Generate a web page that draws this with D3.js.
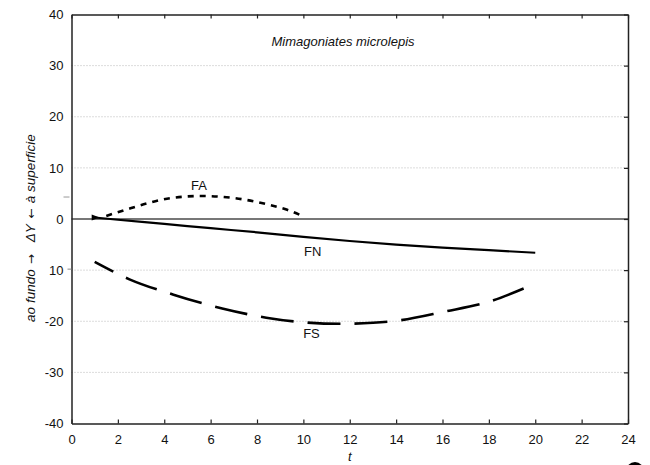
<!DOCTYPE html>
<html lang="pt">
  <head>
    <meta charset="utf-8">
    <style>
    body { margin: 0; background: #fff; }
    svg text { font-family: "Liberation Sans", Arial, sans-serif; }
    </style>
  </head>
  <body>
    <script src="https://cdn.jsdelivr.net/npm/d3@7/dist/d3.min.js"></script>
    <script>
      // dados
      var tA = [1.5, 2.4, 3.3, 4.3, 5.6, 7.0, 8.5, 9.3, 10.0];
      var fa = [0.6, 1.9, 3.1, 4.1, 4.5, 4.1, 2.8, 1.8, 0.5];

      var tN = [1, 2, 4, 6, 8, 10, 12, 14, 16, 18, 20];
      var fn = [0.3, -0.15, -0.95, -1.8, -2.6, -3.5, -4.3, -5.0, -5.6, -6.1, -6.6];

      var tS = [1.0, 2.5, 4.4, 6.5, 8.4, 10, 11.7, 13, 14.2, 16, 18.2, 19.5];
      var fs = [-8.4, -11.8, -14.8, -17.5, -19.3, -20.2, -20.5, -20.3, -19.8, -18.2, -15.9, -13.6];

      var xTicks = [0, 2, 4, 6, 8, 10, 12, 14, 16, 18, 20, 22, 24];
      var yTicks = [-40, -30, -20, -10, 0, 10, 20, 30, 40];
      var yTickLabels = ["-40", "-30", "-20", "10", "0", "10", "20", "30", "40"];

      var seriesNames = ["FA", "FN", "FS"];
      var labelT = [5.5, 10.4, 10.35];
      var labelV = [5.6, -7.2, -23.3];

      var w = 650, h = 465;
      var x = d3.scaleLinear().domain([0, 24]).range([71.5, 628]);
      var y = d3.scaleLinear().domain([-40, 40]).range([423.5, 14.5]);

      var svg = d3.select("body").append("svg")
        .attr("width", w)
        .attr("height", h);

      // grade pontilhada
      svg.selectAll("line.grid")
        .data(yTicks.filter(function(d) { return d !== 0 && Math.abs(d) !== 40; }))
        .enter().append("line")
        .attr("class", "grid")
        .attr("x1", x(0)).attr("x2", x(24))
        .attr("y1", function(d) { return y(d); })
        .attr("y2", function(d) { return y(d); })
        .attr("stroke", "#b8b8b8")
        .attr("stroke-width", 1)
        .attr("stroke-dasharray", "1,2");

      // linha do zero
      svg.append("line")
        .attr("x1", x(0)).attr("x2", x(24))
        .attr("y1", y(0)).attr("y2", y(0))
        .attr("stroke", "#777")
        .attr("stroke-width", 2);

      // eixos
      var axB = d3.axisBottom(x).tickValues(xTicks).tickSizeInner(-4).tickSizeOuter(0).tickPadding(11);
      var gx = svg.append("g").attr("transform", "translate(0," + y(-40) + ")").call(axB);
      var axT = d3.axisTop(x).tickValues(xTicks).tickSizeInner(-4).tickSizeOuter(0).tickFormat("");
      var gt = svg.append("g").attr("transform", "translate(0," + y(40) + ")").call(axT);
      var axL = d3.axisLeft(y).tickValues(yTicks).tickSize(0).tickPadding(8)
        .tickFormat(function(d, i) { return yTickLabels[i]; });
      var gy = svg.append("g").attr("transform", "translate(" + x(0) + ",0)").call(axL);
      var axR = d3.axisRight(y).tickValues(yTicks).tickSizeInner(-4).tickSizeOuter(0).tickFormat("");
      var gr = svg.append("g").attr("transform", "translate(" + x(24) + ",0)").call(axR);

      [gx, gt, gy, gr].forEach(function(g) {
        g.select(".domain").attr("stroke", "#222").attr("stroke-width", 1.5);
        g.selectAll(".tick line").attr("stroke", "#222").attr("stroke-width", 1.2);
        g.selectAll("text").attr("font-size", "13px").attr("fill", "#111")
          .attr("font-family", "'Liberation Sans', Arial, sans-serif");
      });

      // pequenas marcas à esquerda
      svg.append("line")
        .attr("x1", x(0) - 8).attr("x2", x(0) - 2)
        .attr("y1", y(4.3)).attr("y2", y(4.3))
        .attr("stroke", "#aaa").attr("stroke-width", 1.2);
      svg.append("line")
        .attr("x1", x(0) - 4).attr("x2", x(0))
        .attr("y1", y(-10) - 1).attr("y2", y(-10) - 1)
        .attr("stroke", "#888").attr("stroke-width", 1);

      // curvas
      function pts(ts, vs) { return ts.map(function(t, i) { return [t, vs[i]]; }); }
      var line = d3.line()
        .x(function(d) { return x(d[0]); })
        .y(function(d) { return y(d[1]); })
        .curve(d3.curveMonotoneX);

      svg.append("path")
        .attr("d", line(pts(tA, fa)))
        .attr("fill", "none").attr("stroke", "#000")
        .attr("stroke-width", 2.6).attr("stroke-dasharray", "6,6");

      svg.append("path")
        .attr("d", line(pts(tN, fn)))
        .attr("fill", "none").attr("stroke", "#000")
        .attr("stroke-width", 2.2);

      var pS = svg.append("path")
        .attr("d", line(pts(tS, fs)))
        .attr("fill", "none").attr("stroke", "#000")
        .attr("stroke-width", 2.6);
      // tracejado longo: primeiro traço curto, último traço inteiro
      var gap = 14, first = 21;
      var L = pS.node().getTotalLength();
      var n = Math.round((L - first) / 45);
      var period = (L - first) / n;
      pS.attr("stroke-dasharray", (period - gap) + "," + gap)
        .attr("stroke-dashoffset", period - gap - first);

      // seta no início de FN
      var ax = x(tN[0]) + 5, ay = y(fn[0]);
      svg.append("path")
        .attr("d", "M" + (ax - 8) + "," + (ay - 3) + "L" + ax + "," + ay + "L" + (ax - 8) + "," + (ay + 3) + "Z")
        .attr("fill", "#000");

      // rótulos das curvas
      svg.selectAll("text.serie")
        .data(seriesNames)
        .enter().append("text")
        .attr("class", "serie")
        .attr("x", function(d, i) { return x(labelT[i]); })
        .attr("y", function(d, i) { return y(labelV[i]); })
        .attr("text-anchor", "middle")
        .attr("font-size", "13px")
        .attr("fill", "#111")
        .text(function(d) { return d; });

      // título
      svg.append("text")
        .attr("x", 343).attr("y", 46)
        .attr("text-anchor", "middle")
        .attr("font-size", "13px")
        .attr("font-style", "italic")
        .attr("fill", "#111")
        .text("Mimagoniates microlepis");

      // títulos dos eixos
      svg.append("text")
        .attr("x", x(12)).attr("y", 461)
        .attr("text-anchor", "middle")
        .attr("font-size", "13px")
        .attr("font-style", "italic")
        .attr("fill", "#111")
        .text("t");

      var yl = svg.append("text")
        .attr("transform", "translate(35,228) rotate(-90)")
        .attr("text-anchor", "middle")
        .attr("font-size", "13.5px")
        .attr("font-style", "italic")
        .attr("fill", "#111");
      yl.append("tspan").text("ao fundo");
      yl.append("tspan").attr("dx", 5).attr("font-family", "'DejaVu Sans', sans-serif").attr("font-style", "normal").attr("font-size", "12px").text("\u2192");
      yl.append("tspan").attr("dx", 12).text("\u0394Y");
      yl.append("tspan").attr("dx", 6).attr("font-family", "'DejaVu Sans', sans-serif").attr("font-style", "normal").attr("font-size", "12px").text("\u2190");
      yl.append("tspan").attr("dx", 5).text("\u00e0 superficie");

      // mancha no canto inferior direito
      svg.append("circle")
        .attr("cx", 635).attr("cy", 471).attr("r", 9)
        .attr("fill", "#000");
    </script>
  </body>
</html>
